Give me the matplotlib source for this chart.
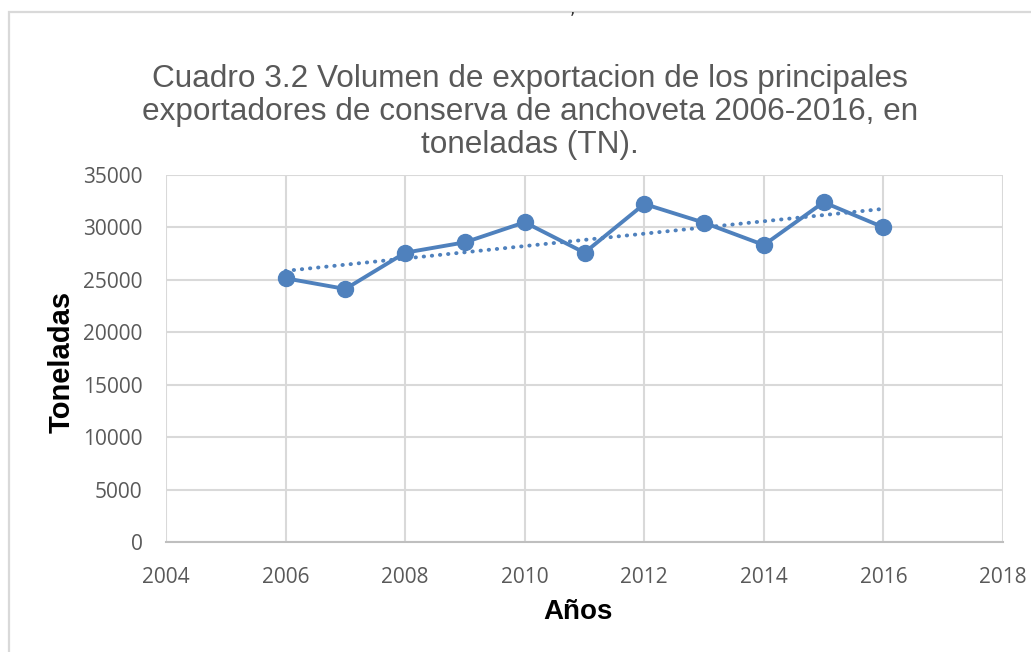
import numpy as np
import matplotlib.pyplot as plt
from matplotlib.patches import Rectangle

# datos (toneladas)
anios = [2006, 2007, 2008, 2009, 2010, 2011, 2012, 2013, 2014, 2015, 2016]
toneladas = [25150, 24130, 27590, 28580, 30490, 27590, 32235, 30450, 28325, 32400, 30010]
titulo = 'Cuadro 3.2 Volumen de exportacion de los principales\nexportadores de conserva de anchoveta 2006-2016, en\ntoneladas (TN).'
xticks = [2004, 2006, 2008, 2010, 2012, 2014, 2016, 2018]
yticks = [0, 5000, 10000, 15000, 20000, 25000, 30000, 35000]

azul = '#4F81BD'
gris = '#595959'

W, H = 1031, 652
fig = plt.figure(figsize=(W / 100, H / 100), dpi=100)

# borde del area del grafico (cortado a la derecha y abajo)
fig.patches.append(Rectangle((8.5 / W, -0.05), 1.1, (H - 12) / H + 0.05,
                             transform=fig.transFigure, fill=False,
                             edgecolor='#D9D9D9', linewidth=1.6))

ax = fig.add_axes([166 / W, (H - 542) / H, (1003 - 166) / W, (542 - 175) / H])

ax.plot(anios, toneladas, color=azul, linewidth=2.8, marker='o',
        markersize=11.5, zorder=3)

# linea de tendencia lineal
coef = np.polyfit(anios, toneladas, 1)
tend = np.polyval(coef, anios)
ax.plot(anios, tend, color=azul, linewidth=2.8, linestyle=(0, (0.1, 2.0)),
        dash_capstyle='round', zorder=2)

ax.set_xlim(2004, 2018)
ax.set_ylim(0, 35000)
ax.set_xticks(xticks)
ax.set_yticks(yticks)
ax.grid(True, color='#D9D9D9', linewidth=1.5)
ax.set_axisbelow(True)
for s in ['left', 'right', 'top']:
    ax.spines[s].set_visible(False)
ax.spines['bottom'].set_color('#BFBFBF')
ax.spines['bottom'].set_linewidth(1.5)
ax.tick_params(length=0, labelsize=15, labelcolor=gris)
ax.tick_params(axis='y', pad=17)
ax.tick_params(axis='x', pad=18)
for lab in ax.get_xticklabels() + ax.get_yticklabels():
    lab.set_family('Open Sans')

fig.text(530 / W, 1 - 112 / H, titulo, ha='center', va='center', multialignment='center',
         fontsize=22.7, color=gris, family='Liberation Sans', linespacing=1.14)
fig.text(61.5 / W, 1 - 362 / H, 'Toneladas', rotation=90, ha='center', va='center',
         fontsize=21, fontweight='bold', family='Liberation Sans')
fig.text(578 / W, 1 - 612 / H, 'Años', ha='center', va='center',
         fontsize=20, fontweight='bold', family='Liberation Sans')
fig.text(572 / W, 1.0, ',', ha='center', va='top', fontsize=12, color='#333333')

fig.savefig('out.png', dpi=100)
